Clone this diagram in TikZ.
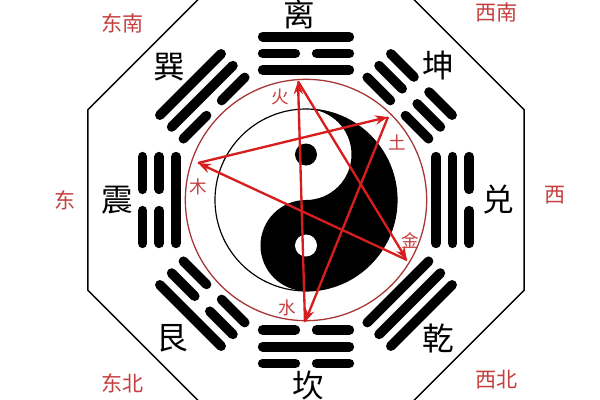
\documentclass[tikz,border=0pt]{standalone}
\usepackage{fontspec}
\newfontfamily\cjk{Noto Sans CJK SC}
\usetikzlibrary{arrows.meta}
\definecolor{kered}{RGB}{215,30,30}
\definecolor{dirred}{RGB}{196,62,62}
\tikzset{
  yao/.style={line width=0.29cm, line cap=round},
  gua/.style={font=\cjk\fontsize{27}{27}\selectfont, inner sep=0pt},
  dir/.style={text=dirred, font=\cjk\fontsize{18}{18}\selectfont, inner sep=0pt},
  elem/.style={text=dirred, font=\cjk\fontsize{15}{15}\selectfont, inner sep=0pt},
  ke/.style={kered, line width=2pt, -{Stealth[length=11pt,width=8pt]}},
}
\begin{document}
\begin{tikzpicture}
\useasboundingbox (-9.18,-6) rectangle (8.82,6);
\clip (-9.18,-6) rectangle (8.82,6);
% octagon
\draw[line width=1.3pt] (22.5:7.08) \foreach \k in {1,...,7} { -- (22.5+45*\k:7.08) } -- cycle;
% taiji
\fill (0,2.73) arc[start angle=90, end angle=-90, radius=2.73]
  arc[start angle=-90, end angle=-270, radius=1.365]
  arc[start angle=-90, end angle=90, radius=1.365] -- cycle;
\fill (0,1.365) circle (0.33);
\fill[white] (0,-1.365) circle (0.33);
\draw[line width=1pt] (0,0) circle (2.73);
\draw[dirred!85!black, line width=1.1pt] (0,0) circle (3.62);
% trigrams, bottom line first
\foreach \ang/\a/\b/\c in {90/1/0/1, 45/0/0/0, 0/1/1/0, -45/1/1/1,
                           -90/0/1/0, -135/0/0/1, 180/1/0/0, 135/0/1/1} {
  \begin{scope}[rotate=\ang-90]
    \foreach \v [count=\i] in {\a,\b,\c} {
      \ifnum\v=1\relax
        \draw[yao] (-1.3,3.4+0.5*\i) -- (1.3,3.4+0.5*\i);
      \else
        \draw[yao] (-1.3,3.4+0.5*\i) -- (-0.32,3.4+0.5*\i)
                   (0.32,3.4+0.5*\i) -- (1.3,3.4+0.5*\i);
      \fi
    }
  \end{scope}
}
\node[gua] (li)   at (-0.2,5.58)  {离};
\node[gua] (kun)  at (3.96,4.05)  {坤};
\node[gua] (dui)  at (5.76,0)     {兑};
\node[gua] (qian) at (3.96,-4.14) {乾};
\node[gua] (kan)  at (0.06,-5.56) {坎};
\node[gua] (gen)  at (-4.02,-4.14) {艮};
\node[gua] (zhen) at (-5.67,0)    {震};
\node[gua] (xun)  at (-4.11,3.99) {巽};
% directions
\node[dir] (dongnan) at (-5.49,5.31)  {东南};
\node[dir] (xinan)   at (5.73,5.64)   {西南};
\node[dir] (dong)    at (-7.23,0)     {东};
\node[dir] (xi)      at (7.47,0.15)   {西};
\node[dir] (dongbei) at (-5.49,-5.49) {东北};
\node[dir] (xibei)   at (5.73,-5.4)   {西北};
% five elements
\coordinate (huo)  at (-0.24,3.56);
\coordinate (tu)   at (2.46,2.49);
\coordinate (jin)  at (3.03,-1.8);
\coordinate (shui) at (-0.03,-3.66);
\coordinate (mu)   at (-3.24,1.11);
\node[elem] (lhuo)  at (-0.78,3.09) {火};
\node[elem] (ltu)   at (2.73,1.74)  {土};
\node[elem] (ljin)  at (3.12,-1.2)  {金};
\node[elem] (lshui) at (-0.57,-3.24) {水};
\node[elem] (lmu)   at (-3.24,0.39) {木};
\draw[ke] (mu) -- (tu);
\draw[ke] (tu) -- (shui);
\draw[ke] (shui) -- (huo);
\draw[ke] (huo) -- (jin);
\draw[ke] (jin) -- (mu);
\end{tikzpicture}
\end{document}
